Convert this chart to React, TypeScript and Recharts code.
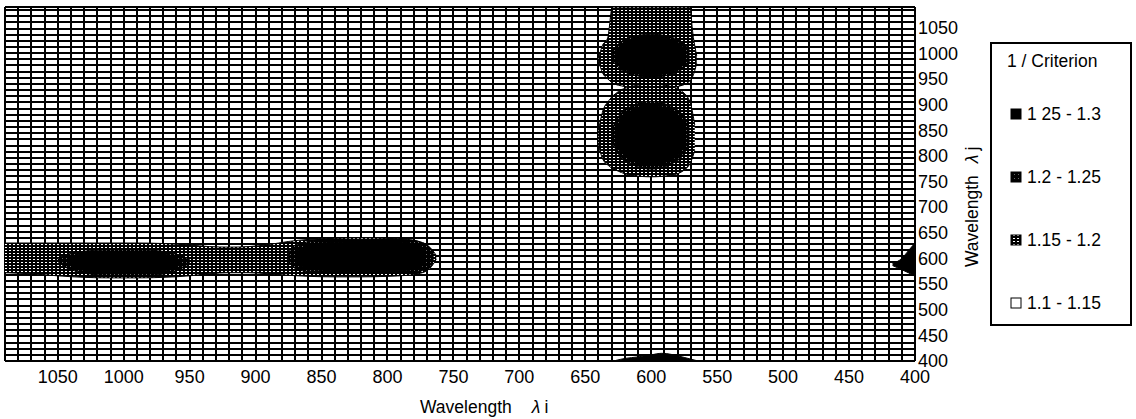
import React from "react";
import { ComposedChart, Area, XAxis, YAxis, CartesianGrid } from "recharts";

// ---- axes / ticks ----
const xTicks = [1050, 1000, 950, 900, 850, 800, 750, 700, 650, 600, 550, 500, 450, 400];
const yTicks = [400, 450, 500, 550, 600, 650, 700, 750, 800, 850, 900, 950, 1000, 1050];
const meshI: number[] = [];
for (let v = 400; v <= 1090; v += 10) meshI.push(v);
const meshJ: number[] = [];
for (let v = 400; v <= 1084; v += 12) meshJ.push(v);
meshJ.push(1090);

// ---- contour regions (λi -> λj range) ----
// horizontal band, level 1.15 - 1.2
const bandOuterLi = [1090, 1070, 1050, 1030, 1010, 990, 970, 950, 935, 920, 905, 890, 875, 860, 840, 820, 800, 785, 775, 768, 763];
const bandOuterLo = [572, 570, 566, 563, 562, 562, 563, 566, 570, 572, 572, 570, 567, 565, 564, 564, 565, 567, 571, 580, 598];
const bandOuterHi = [630, 630, 630, 630, 630, 630, 629, 626, 623, 622, 623, 627, 633, 637, 639, 640, 639, 637, 632, 622, 606];

// left blob
const leftDarkLi = [1050, 1045, 1035, 1020, 1005, 990, 975, 962, 955, 950];
const leftDarkLo = [594, 584, 574, 568, 566, 566, 568, 574, 582, 592];
const leftDarkHi = [600, 606, 612, 616, 617, 617, 615, 610, 604, 598];
const leftCoreLi = [1042, 1035, 1020, 1005, 990, 975, 965, 958];
const leftCoreLo = [590, 580, 573, 571, 571, 573, 578, 588];
const leftCoreHi = [600, 607, 612, 613, 613, 611, 606, 597];

// right blob
const rightDarkLi = [876, 872, 865, 855, 840, 820, 800, 785, 775, 769, 765];
const rightDarkLo = [598, 584, 576, 573, 571, 571, 571, 572, 575, 582, 596];
const rightDarkHi = [608, 622, 630, 634, 636, 637, 637, 636, 632, 624, 610];
const rightCoreLi = [870, 862, 850, 830, 810, 790, 778, 771];
const rightCoreLo = [594, 581, 577, 575, 575, 576, 580, 590];
const rightCoreHi = [612, 624, 630, 632, 633, 632, 626, 614];

// hourglass near λi = 600
const upOuterLi = [640, 637, 633, 629.5, 620, 610, 600, 590, 580, 571, 568, 565.5];
const upOuterLo = [985, 962, 950, 942, 935, 932, 931, 932, 935, 945, 958, 980];
const upOuterHi = [990, 1015, 1030, 1090, 1090, 1090, 1090, 1090, 1090, 1090, 1030, 995];
const lowOuterLi = [640, 637, 632, 625, 615, 600, 585, 575, 570, 567];
const lowOuterLo = [820, 795, 780, 770, 762, 759, 762, 772, 788, 810];
const lowOuterHi = [850, 885, 908, 925, 935, 940, 935, 922, 900, 860];
const upDarkLi = [629, 625, 617, 600, 583, 575, 571];
const upDarkLo = [984, 972, 960, 953, 960, 972, 984];
const upDarkHi = [1006, 1018, 1030, 1037, 1030, 1018, 1006];
const upCoreLi = [626, 622, 615, 600, 585, 578, 574];
const upCoreLo = [985, 973, 963, 957, 963, 973, 985];
const upCoreHi = [1005, 1017, 1027, 1033, 1027, 1017, 1005];
const lowDarkLi = [629, 625, 617, 600, 583, 575, 571];
const lowDarkLo = [823, 804, 786, 774, 786, 804, 823];
const lowDarkHi = [857, 876, 894, 906, 894, 876, 857];
const lowCoreLi = [626, 622, 615, 600, 585, 578, 574];
const lowCoreLo = [824, 806, 792, 782, 792, 806, 824];
const lowCoreHi = [856, 874, 888, 898, 888, 874, 856];

// bottom strip & right edge
const bottomLi = [627, 620, 610, 600, 592, 585, 575, 566];
const bottomLo = [400, 400, 400, 400, 400, 400, 400, 400];
const bottomHi = [401, 405, 408, 412, 415, 413, 407, 401];
const edgeLi = [400, 405, 410, 417];
const edgeLo = [565, 572, 578, 586];
const edgeHi = [630, 615, 600, 590];

// ---- legend ----
const legendTitle = "1 / Criterion";
const legendLabels = ["1 25 - 1.3", "1.2 - 1.25", "1.15 - 1.2", "1.1 - 1.15"];
const legendFills = ["#000", "url(#darkPat)", "url(#hatchPat)", "#fff"];

type Shape = { key: string; li: number[]; lo: number[]; hi: number[]; fill: string };
const shapes: Shape[] = [
  { key: "bandOuter", li: bandOuterLi, lo: bandOuterLo, hi: bandOuterHi, fill: "url(#hatchPat)" },
  { key: "upOuter", li: upOuterLi, lo: upOuterLo, hi: upOuterHi, fill: "url(#hatchPat)" },
  { key: "lowOuter", li: lowOuterLi, lo: lowOuterLo, hi: lowOuterHi, fill: "url(#hatchPat)" },
  { key: "leftDark", li: leftDarkLi, lo: leftDarkLo, hi: leftDarkHi, fill: "url(#darkPat)" },
  { key: "rightDark", li: rightDarkLi, lo: rightDarkLo, hi: rightDarkHi, fill: "url(#darkPat)" },
  { key: "upDark", li: upDarkLi, lo: upDarkLo, hi: upDarkHi, fill: "url(#darkPat)" },
  { key: "lowDark", li: lowDarkLi, lo: lowDarkLo, hi: lowDarkHi, fill: "url(#darkPat)" },
  { key: "leftCore", li: leftCoreLi, lo: leftCoreLo, hi: leftCoreHi, fill: "#000" },
  { key: "rightCore", li: rightCoreLi, lo: rightCoreLo, hi: rightCoreHi, fill: "#000" },
  { key: "upCore", li: upCoreLi, lo: upCoreLo, hi: upCoreHi, fill: "#000" },
  { key: "lowCore", li: lowCoreLi, lo: lowCoreLo, hi: lowCoreHi, fill: "#000" },
  { key: "bottom", li: bottomLi, lo: bottomLo, hi: bottomHi, fill: "#000" },
  { key: "edge", li: edgeLi, lo: edgeLo, hi: edgeHi, fill: "#000" },
];

const allLi = Array.from(new Set(shapes.flatMap((s) => s.li))).sort((a, b) => a - b);
const table = allLi.map((li) => {
  const row: Record<string, any> = { li };
  shapes.forEach((s) => {
    const i = s.li.indexOf(li);
    row[s.key] = i >= 0 ? [s.lo[i], s.hi[i]] : null;
  });
  return row;
});

const FONT = "'Liberation Sans', Arial, Helvetica, sans-serif";

export default function App() {
  return (
    <div style={{ position: "absolute", left: 0, top: 0, width: 1136, height: 419, background: "#fff", fontFamily: FONT }}>
      <ComposedChart width={1136} height={419} data={table} margin={{ top: 7, left: 5, right: 161, bottom: 28 }}>
        <defs>
          <pattern id="hatchPat" width="4" height="3" patternUnits="userSpaceOnUse">
            <rect width="4" height="3" fill="#000" />
            <rect x="1" y="1" width="2" height="1" fill="#fff" />
          </pattern>
          <pattern id="darkPat" width="4" height="4" patternUnits="userSpaceOnUse">
            <rect width="4" height="4" fill="#000" />
            <rect x="2" y="2" width="1" height="1" fill="#666" />
          </pattern>
        </defs>
        <CartesianGrid
          verticalValues={meshI}
          horizontalValues={meshJ}
          stroke="#000"
          strokeWidth={2}
          shapeRendering="crispEdges"
          fill="#fff"
        />
        <XAxis
          dataKey="li"
          type="number"
          domain={[400, 1090]}
          reversed
          allowDataOverflow
          ticks={xTicks}
          interval={0}
          tickSize={0}
          tickMargin={9}
          axisLine={false}
          tickLine={false}
          height={30}
          tick={{ fontSize: 18, fill: "#000", fontFamily: FONT }}
        />
        <YAxis
          type="number"
          orientation="right"
          domain={[400, 1090]}
          allowDataOverflow
          ticks={yTicks}
          interval={0}
          tickSize={0}
          tickMargin={3}
          axisLine={false}
          tickLine={false}
          width={60}
          tick={{ fontSize: 18, fill: "#000", fontFamily: FONT, textAnchor: "start" }}
        />
        {shapes.map((s) => (
          <Area
            key={s.key}
            dataKey={s.key}
            type="monotone"
            connectNulls
            fill={s.fill}
            fillOpacity={1}
            stroke="#000"
            strokeWidth={1}
            dot={false}
            activeDot={false}
            isAnimationActive={false}
          />
        ))}
      </ComposedChart>
      <svg width={1136} height={419} style={{ position: "absolute", left: 0, top: 0, pointerEvents: "none" }}>
        <text x={420} y={413} fontSize={17.5} fontFamily={FONT} fill="#000">
          <tspan>Wavelength</tspan>
          <tspan dx={20} fontStyle="italic">λ</tspan>
          <tspan dx={4}>i</tspan>
        </text>
        <text x={978} y={267} fontSize={17.5} fontFamily={FONT} fill="#000" transform="rotate(-90 978 267)">
          <tspan>Wavelength</tspan>
          <tspan dx={12} fontStyle="italic">λ</tspan>
          <tspan dx={4}>j</tspan>
        </text>
        <rect x={991} y={43} width={140} height={282} fill="#fff" stroke="#000" strokeWidth={2} />
        <text x={1007} y={67} fontSize={17.5} fontFamily={FONT} fill="#000">{legendTitle}</text>
        {legendLabels.map((lab, i) => (
          <g key={lab}>
            <rect x={1011} y={120 + i * 63 - 11} width={10} height={10} fill={legendFills[i]} stroke="#000" strokeWidth={1} />
            <text x={1027} y={120 + i * 63} fontSize={17.5} fontFamily={FONT} fill="#000">{lab}</text>
          </g>
        ))}
      </svg>
    </div>
  );
}
